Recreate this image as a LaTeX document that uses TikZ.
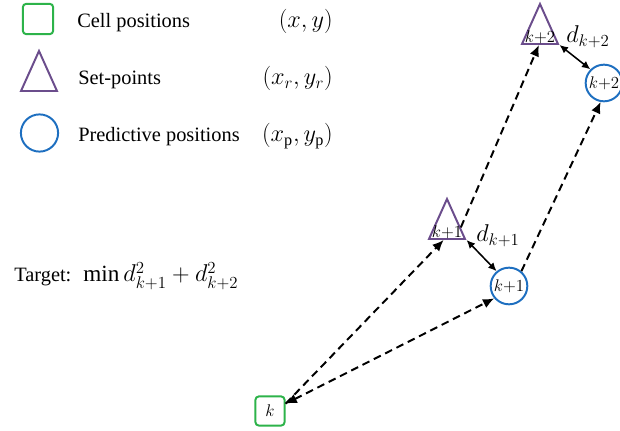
\documentclass[tikz,border=0pt]{standalone}
\usepackage{amsmath}
\usepackage{fontspec}
\setmainfont{Liberation Serif}
\usepackage{tikz}
\usetikzlibrary{arrows.meta,positioning,shapes.geometric}
\definecolor{cellgreen}{HTML}{2DB34A}
\definecolor{setpurple}{HTML}{6B4D8C}
\definecolor{predblue}{HTML}{1E6FC0}

\begin{document}
\begin{tikzpicture}[
  x=0.025cm, y=-0.025cm,
  cell/.style={draw=cellgreen, line width=1.4pt, rounded corners=2.5pt, minimum size=0.73cm, inner sep=0pt},
  setpt/.style={draw=setpurple, line width=1.4pt, isosceles triangle, shape border rotate=90,
    isosceles triangle stretches, minimum width=0.9cm, minimum height=1.0cm, inner sep=0pt},
  pred/.style={draw=predblue, line width=1.4pt, circle, minimum size=0.83cm, inner sep=0pt},
  txt/.style={font=\fontsize{14.5}{17}\selectfont, inner sep=0pt},
  mth/.style={font=\fontsize{16.5}{19}\selectfont, inner sep=0pt},
  idx/.style={font=\fontsize{12.5}{14}\selectfont, inner sep=1pt},
  move/.style={line width=1.4pt, dash pattern=on 5.5pt off 3.5pt, -{Latex[length=8pt,width=7pt]}},
  gap/.style={line width=1.1pt, {Latex[length=6pt,width=5.5pt]}-{Latex[length=6pt,width=5.5pt]}},
]
\useasboundingbox (0,0) rectangle (620,431);

% Legend
\node[cell, minimum size=0.76cm] (cellkey) at (38,19) {};
\node[setpt, anchor=south] (setkey) at (39,92) {};
\node[pred, minimum size=0.93cm] (predkey) at (39.5,133) {};
\node[txt, anchor=base west] (celltxt) at (77,28) {Cell positions};
\node[txt, anchor=base west] (settxt) at (78,85) {Set-points};
\node[txt, anchor=base west] (predtxt) at (78,142) {Predictive positions};
\node[mth, anchor=base east] (cellxy) at (333,28) {$(x, y)$};
\node[mth, anchor=base east] (setxy) at (333,85) {$(x_r, y_r)$};
\node[mth, anchor=base east] (predxy) at (333,142) {$(x_{\mathrm{p}}, y_{\mathrm{p}})$};

% Objective
\node[txt, anchor=base west] (target) at (14,282) {Target:~ \fontsize{16.5}{19}\selectfont$\min d^2_{k+1} + d^2_{k+2}$};

% Steps k, k+1, k+2
\node[cell, idx] (k) at (270,411) {$k$};
\node[setpt, anchor=south, label={[idx, anchor=south]south:$k{+}1$}] (r1) at (447,240) {};
\node[pred, idx] (p1) at (509,286) {$k{+}1$};
\node[setpt, anchor=south, label={[idx, anchor=south]south:$k{+}2$}] (r2) at (540,45) {};
\node[pred, idx] (p2) at (604,83) {$k{+}2$};

% Moves
\draw[move] (k.25) -- (r1.255);
\draw[move, {Latex[length=8pt,width=7pt]}-{Latex[length=8pt,width=7pt]}] (k.25) -- (p1.220);
\draw[move] (r1.east) -- (r2.265);
\draw[move] (p1.50) -- (p2.260);

% Distances
\draw[gap] (r1.right corner) -- (p1.130);
\draw[gap] (r2.right corner) -- (p2.135);
\node[mth] (d1) at (498,236) {$d_{k+1}$};
\node[mth] (d2) at (588,37) {$d_{k+2}$};
\end{tikzpicture}
\end{document}
